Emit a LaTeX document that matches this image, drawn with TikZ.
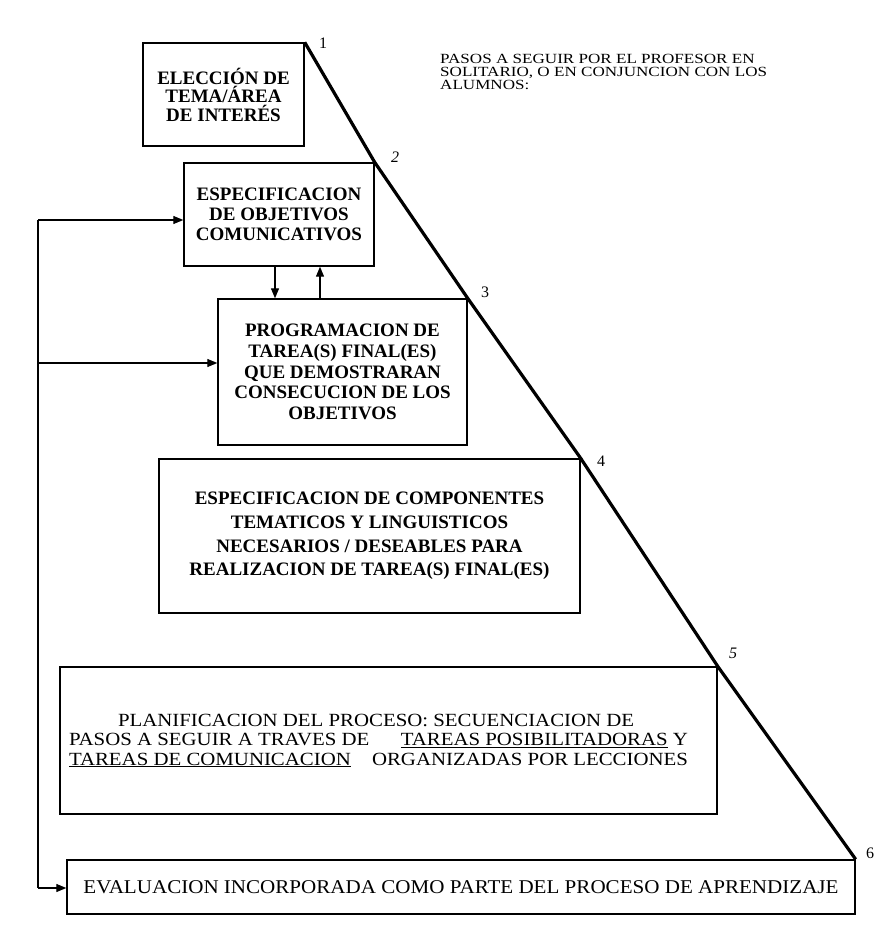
\documentclass[tikz,border=0pt]{standalone}
\usepackage{fontspec}
\setmainfont{Liberation Serif}
\newfontfamily\wideA{Liberation Serif}[FakeStretch=1.22]
\newfontfamily\wideB{Liberation Serif}[FakeStretch=1.12]
\newfontfamily\wideC{Liberation Serif}[FakeStretch=1.08]
\usetikzlibrary{arrows.meta}
\begin{document}
\begin{tikzpicture}[x=1pt,y=-1pt,
  box/.style={draw, line width=1.4pt, inner sep=0pt, align=center},
  boldtxt/.style={font=\bfseries\fontsize{19}{#1}\selectfont},
  conn/.style={line width=1.2pt},
  arr/.style={line width=1.2pt, -{Triangle[length=10pt,width=8pt]}},
  diag/.style={line width=3.2pt, line join=round},
  num/.style={font=\fontsize{16}{16}\selectfont, inner sep=0pt}]
\useasboundingbox[fill=white] (0,0) rectangle (883,936);

% boxes
\node[box, boldtxt=18.5, minimum width=161pt, minimum height=103pt] (b1) at (223.5,94.5)
  {\rule{0pt}{10pt}ELECCIÓN DE\\TEMA/ÁREA\\DE INTERÉS};
\node[box, boldtxt=20, minimum width=190pt, minimum height=103pt] (b2) at (279,214.5)
  {ESPECIFICACION\\DE OBJETIVOS\\COMUNICATIVOS};
\node[box, boldtxt=20.8, minimum width=249pt, minimum height=146pt] (b3) at (342.5,372)
  {PROGRAMACION DE\\TAREA(S) FINAL(ES)\\QUE DEMOSTRARAN\\CONSECUCION DE LOS\\OBJETIVOS};
\node[box, boldtxt=23.7, minimum width=421pt, minimum height=154pt] (b4) at (369.5,536)
  {ESPECIFICACION DE COMPONENTES\\TEMATICOS Y LINGUISTICOS\\NECESARIOS / DESEABLES PARA\\REALIZACION DE TAREA(S) FINAL(ES)};
\node[box, minimum width=657pt, minimum height=147pt,
      font=\wideB\fontsize{18.6}{19.5}\selectfont] (b5) at (388.5,740.5)
  {\parbox{619pt}{\baselineskip=19.5pt
   \hspace*{49pt}PLANIFICACION DEL PROCESO: SECUENCIACION DE\\
   \makebox[619pt][l]{PASOS A SEGUIR A TRAVES DE\hfill\underline{TAREAS POSIBILITADORAS} Y}\\
   \makebox[619pt][l]{\underline{TAREAS DE COMUNICACION}\hfill ORGANIZADAS POR LECCIONES}}\hspace*{20pt}\rule[-14pt]{0pt}{10pt}};
\node[box, minimum width=788pt, minimum height=54pt,
      font=\wideC\fontsize{19.5}{19.5}\selectfont] (b6) at (461,887)
  {EVALUACION INCORPORADA COMO PARTE DEL PROCESO DE APRENDIZAJE};

% heading text
\node[anchor=north west, inner sep=0pt, align=left,
      font=\wideA\fontsize{14}{13}\selectfont] (hd) at (440,54)
  {PASOS A SEGUIR POR EL PROFESOR EN\\SOLITARIO, O EN CONJUNCION CON LOS\\ALUMNOS:};

% diagonal
\draw[diag] (b1.north east) -- (b2.north east) -- (b3.north east)
  -- (b4.north east) -- (b5.north east) -- (b6.north east);

% step numbers
\node[num] (n1) at (323,43) {1};
\node[num] (n2) at (395,157) {\itshape 2};
\node[num] (n3) at (485,292) {3};
\node[num] (n4) at (601,461) {4};
\node[num] (n5) at (733,653) {\itshape 5};
\node[num] (n6) at (870,853) {6};

% arrows between b2 and b3
\coordinate (dA) at (275,0);
\coordinate (dB) at (320,0);
\draw[arr] (b2.south -| dA) -- (b3.north -| dA);
\draw[arr] (b3.north -| dB) -- (b2.south -| dB);

% feedback loop on left
\coordinate (Ltop) at (38,220);
\coordinate (Lmid) at (38,363);
\coordinate (Lbot) at (38,888);
\draw[conn] (Ltop) -- (Lbot);
\draw[arr] (Ltop) -- (Ltop -| b2.west);
\draw[arr] (Lmid) -- (Lmid -| b3.west);
\draw[arr] (Lbot) -- (Lbot -| b6.west);
\end{tikzpicture}
\end{document}
